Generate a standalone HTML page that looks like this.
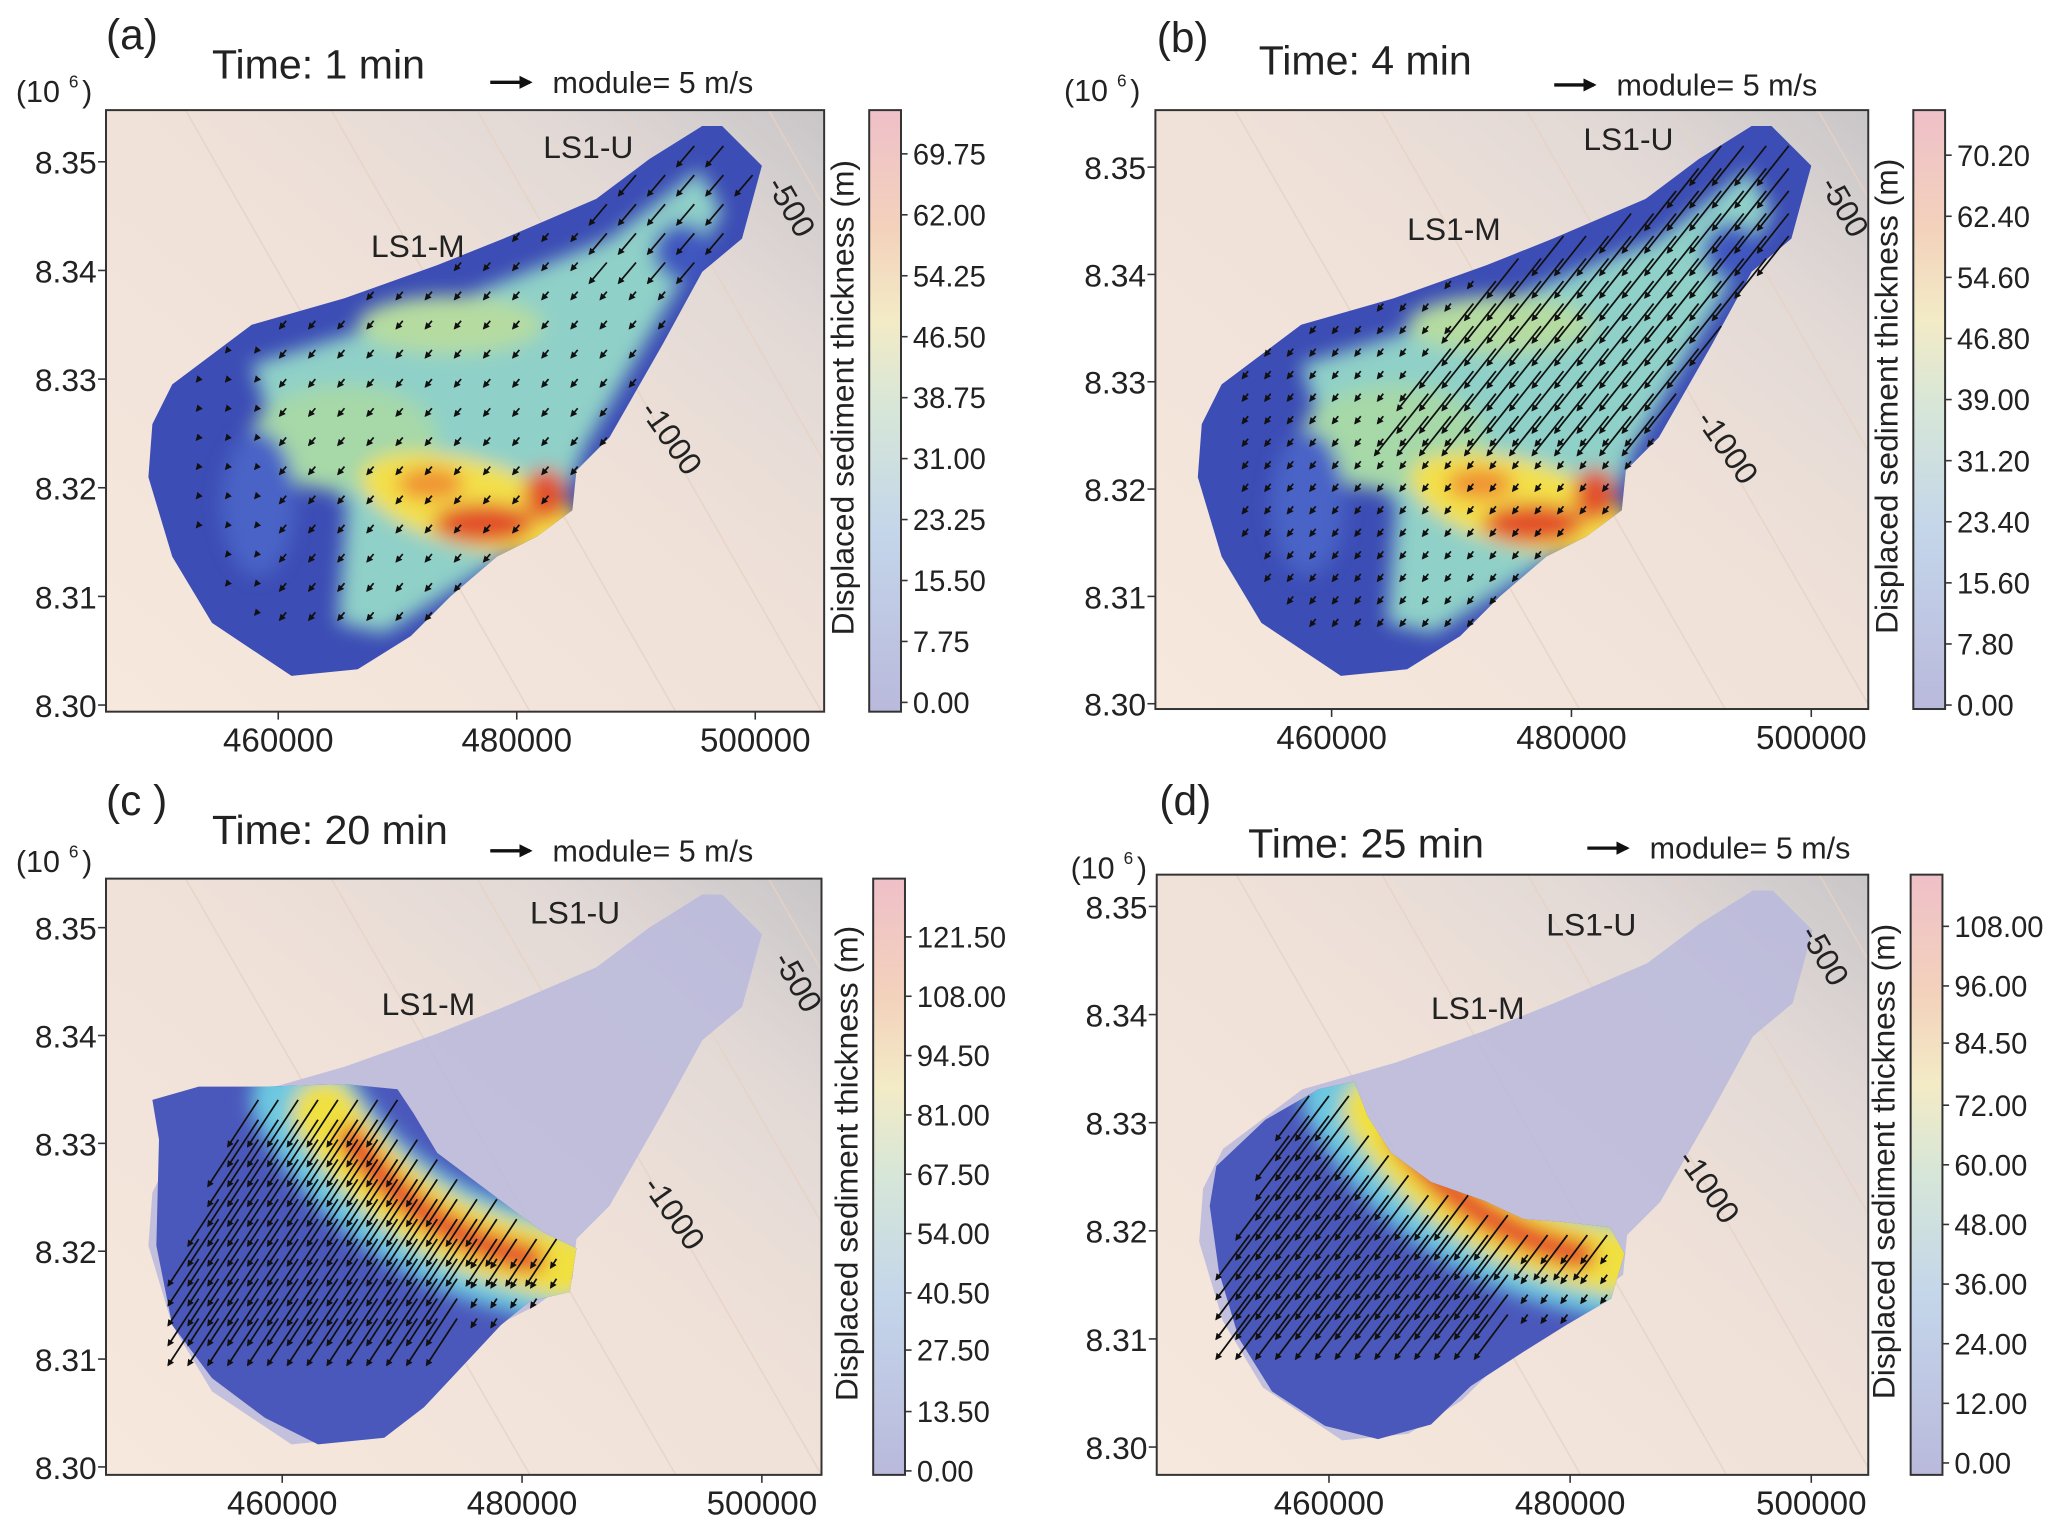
<!DOCTYPE html>
<html><head><meta charset="utf-8"><style>
html,body{margin:0;padding:0;background:#fff;}
svg{display:block;font-family:"Liberation Sans",Arial,sans-serif;}
</style></head><body>
<svg id="fig" width="2067" height="1532" viewBox="0 0 1560 1156" xmlns="http://www.w3.org/2000/svg">
<defs>
<linearGradient id="bg" x1="0" y1="1" x2="1" y2="0">
<stop offset="0" stop-color="#f6e8dc"/><stop offset="0.55" stop-color="#efe1d8"/><stop offset="0.8" stop-color="#e2d9d6"/><stop offset="1" stop-color="#c9c6c8"/>
</linearGradient>
<linearGradient id="cbar" x1="0" y1="1" x2="0" y2="0">
<stop offset="0" stop-color="#b9b9dc"/><stop offset="0.3" stop-color="#c4d6ea"/><stop offset="0.5" stop-color="#d6e6d8"/><stop offset="0.65" stop-color="#f3ebc6"/><stop offset="0.8" stop-color="#f3d2bc"/><stop offset="1" stop-color="#efc0c8"/>
</linearGradient>
<filter id="blur6" filterUnits="userSpaceOnUse" x="0" y="0" width="1560" height="1156"><feGaussianBlur stdDeviation="7"/></filter>
<marker id="ah" viewBox="0 0 10 10" refX="8" refY="5" markerWidth="4" markerHeight="4" orient="auto"><path d="M0,0L10,5L0,10z" fill="#111"/></marker>
</defs>
<g id="root"></g>
</svg>
<script>
const xTickValues=[460000,480000,500000];
const yTickValues=[8.30,8.31,8.32,8.33,8.34,8.35];
const cbarA=[0,7.75,15.50,23.25,31.00,38.75,46.50,54.25,62.00,69.75];
const cbarB=[0,7.80,15.60,23.40,31.20,39.00,46.80,54.60,62.40,70.20];
const cbarC=[0,13.50,27.50,40.50,54.00,67.50,81.00,94.50,108.00,121.50];
const cbarD=[0,12.00,24.00,36.00,48.00,60.00,72.00,84.50,96.00,108.00];
const panelLetters=["(a)","(b)","(c )","(d)"];
const panelTimes=["Time: 1 min","Time: 4 min","Time: 20 min","Time: 25 min"];

const NS="http://www.w3.org/2000/svg";
const root=document.getElementById('root');
function mk(tag,attrs,parent,text){const e=document.createElementNS(NS,tag);for(const k in attrs)e.setAttribute(k,attrs[k]);if(text!==undefined)e.textContent=text;(parent||root).appendChild(e);return e;}

const slide=[[115,320],[130,290],[190,245],[260,225],[330,200],[380,180],[450,150],[490,120],[530,95],[545,95],[575,125],[560,180],[530,205],[500,260],[460,330],[435,355],[432,385],[405,405],[375,420],[340,450],[310,480],[270,505],[220,510],[160,470],[130,420],[112,360]];
const depC=[[115,830],[150,820],[200,820],[260,818],[300,822],[312,840],[330,870],[370,900],[410,930],[435,942],[430,975],[400,982],[378,1000],[350,1030],[320,1062],[290,1085],[240,1090],[200,1070],[160,1040],[130,1000],[118,940],[120,860]];
const depD=[[918,880],[955,845],[995,822],[1022,816],[1032,842],[1050,870],[1080,892],[1120,906],[1150,920],[1178,922],[1215,926],[1226,946],[1216,980],[1182,1000],[1150,1020],[1110,1046],[1080,1075],[1040,1086],[1000,1076],[960,1050],[935,1010],[920,960],[913,910]];

function pts(p,dx,dy){return p.map(q=>(q[0]+dx)+','+(q[1]+dy)).join(' ');}
function inside(p,x,y){let c=false;for(let i=0,j=p.length-1;i<p.length;j=i++){const xi=p[i][0],yi=p[i][1],xj=p[j][0],yj=p[j][1];if(((yi>y)!=(yj>y))&&(x<(xj-xi)*(y-yi)/(yj-yi)+xi))c=!c;}return c;}

const panels=[
 {fx:80,fy:83,fw:542,fh:454,x0:210,x1:570,yb:532,yt:122,cb:656,cbt:83,cbb:537,lt:116,lb:530,cbv:cbarA,dx:0,dy:0,lx:80,ly:25,tx:160,ty:48,mx:370,my:62,ex:12,ey:69,u:[410,110],m:[280,185],c5:[590,160],c10:[500,335]},
 {fx:872,fy:83,fw:538,fh:452,x0:1005,x1:1367,yb:531,yt:126,cb:1444,cbt:83,cbb:535,lt:117,lb:532,cbv:cbarB,dx:792,dy:0,lx:873,ly:27,tx:950,ty:45,mx:1173,my:64,ex:803,ey:68,u:[1195,104],m:[1062,172],c5:[1385,160],c10:[1297,342]},
 {fx:80,fy:663,fw:540,fh:450,x0:213,x1:575,yb:1107,yt:700,cb:659,cbt:663,cbb:1113,lt:707,lb:1110,cbv:cbarC,dx:0,dy:580,lx:80,ly:603,tx:160,ty:626,mx:370,my:642,ex:12,ey:650,u:[400,688],m:[288,757],c5:[595,745],c10:[502,920]},
 {fx:873,fy:660,fw:537,fh:453,x0:1003,x1:1367,yb:1092,yt:684,cb:1442,cbt:660,cbb:1113,lt:699,lb:1104,cbv:cbarD,dx:793,dy:577,lx:875,ly:603,tx:942,ty:636,mx:1198,my:640,ex:808,ey:655,u:[1167,697],m:[1080,760],c5:[1370,725],c10:[1283,900]}
];

panels.forEach((P,i)=>{
 const g=mk('g',{});
 
 
 const xs=v=>P.x0+(v-460000)*(P.x1-P.x0)/40000;
 const ys=v=>P.yb+(v-8.30)*(P.yt-P.yb)/0.05;
 const cid='clip'+i;
 const cp=mk('clipPath',{id:cid},g);mk('rect',{x:P.fx,y:P.fy,width:P.fw,height:P.fh},cp);
 const map=mk('g',{'clip-path':'url(#'+cid+')'},g);
 
 
 mk('rect',{x:P.fx,y:P.fy,width:P.fw,height:P.fh,fill:'url(#bg)'},map);
 for(let k=0;k<5;k++){const ox=P.fx+60+k*110;mk('path',{d:`M${ox},${P.fy} L${ox+260},${P.fy+P.fh}`,stroke:'#e6d2c4',"stroke-width":1.2,fill:'none',opacity:0.8},map);}
 if(i<2){
  const sid='sclip'+i;
  const sc=mk('clipPath',{id:sid},g);mk('polygon',{points:pts(slide,P.dx,P.dy)},sc);
  mk('polygon',{points:pts(slide,P.dx,P.dy),fill:'#3c4db5'},map);
  const inner=mk('g',{filter:'url(#blur6)','clip-path':'url(#'+sid+')'},map);
  const D=P.dx;
  mk('path',{d:`M${190+D},${275} L${330+D},${232} L${460+D},${180} L${528+D},${128} L${545+D},${160} L${492+D},${250} L${440+D},${340} L${420+D},${395} L${350+D},${440} L${290+D},${478} L${255+D},${470} L${262+D},${380} L${205+D},${320}z`,fill:'#8fd0c8'},inner);
  mk('ellipse',{cx:260+D,cy:330,rx:70,ry:40,fill:'#a6d8a8'},inner);
  mk('ellipse',{cx:340+D,cy:245,rx:70,ry:22,fill:'#b5dba0'},inner);
  mk('ellipse',{cx:195+D,cy:380,rx:28,ry:55,fill:'#4a63c6'},inner);
  mk('ellipse',{cx:515+D,cy:190,rx:22,ry:22,fill:'#3f56bf'},inner);
  mk('ellipse',{cx:355+D,cy:380,rx:85,ry:33,fill:'#f3e048',transform:`rotate(15 ${355+D} 380)`},inner);
  mk('ellipse',{cx:365+D,cy:395,rx:38,ry:15,fill:'#e2502a'},inner);
  mk('ellipse',{cx:412+D,cy:373,rx:16,ry:20,fill:'#e2502a'},inner);
  mk('ellipse',{cx:325+D,cy:365,rx:25,ry:12,fill:'#f09030'},inner);
  const dir=i===0?[-0.55,0.65]:[-0.62,0.78];
  const sp=i===0?22:17;
  for(let x=150;x<570;x+=sp)for(let y=110;y<480;y+=sp){
   if(!inside(slide,x,y)||!inside(slide,x-15,y+15))continue;
   let L;
   if(i===0){L=y<200&&x>450?24:(x>200?9:3);}
   else{L=(y<330&&x>250&&x+y*0.7>480)?38:7;}
   const a=mk('line',{x1:x+D,y1:y,x2:x+D+dir[0]*L,y2:y+dir[1]*L,stroke:'#111','stroke-width':1.3,'marker-end':'url(#ah)'},map);
   
   
  }
 } else {
  const dep=i===2?depC:depD;
  const did='dclip'+i;
  const dc=mk('clipPath',{id:did},g);mk('polygon',{points:pts(dep,0,0)},dc);
  mk('polygon',{points:pts(slide,P.dx,P.dy),fill:'#b9b9dc',opacity:0.85},map);
  mk('polygon',{points:pts(dep,0,0),fill:'#4a58bb'},map);
  const inner=mk('g',{filter:'url(#blur6)','clip-path':'url(#'+did+')'},map);
  const cx=i===2?0:793, cy=i===2?0:-3;
  mk('path',{d:`M${230+cx},${830+cy} Q${290+cx},${940+cy} ${440+cx},${960+cy}`,stroke:'#6cc8e0','stroke-width':80,fill:'none','stroke-linecap':'round'},inner);
  mk('path',{d:`M${245+cx},${840+cy} Q${305+cx},${935+cy} ${425+cx},${955+cy}`,stroke:'#f0e040','stroke-width':50,fill:'none','stroke-linecap':'round'},inner);
  mk('path',{d:`M${265+cx},${860+cy} Q${315+cx},${930+cy} ${400+cx},${950+cy}`,stroke:'#e5502a','stroke-width':22,fill:'none','stroke-linecap':'round'},inner);
  const d2=i===2?[-0.55,0.84]:[-0.6,0.8];
  for(let x=150;x<430;x+=15)for(let y=830;y<1000;y+=15){
   const px=x+cx, py=y+cy;
   if(!inside(dep,px,py))continue;
   const r=x+ (y-830)*0.4;
   if(r<190)continue;
   const L=(y>940&&x>350)?8:42;
   const a=mk('line',{x1:px,y1:py,x2:px+d2[0]*L,y2:py+d2[1]*L,stroke:'#111','stroke-width':1.3,'marker-end':'url(#ah)'},map);
   
   
  }
 }
 const t1=mk('text',{x:P.u[0],y:P.u[1]+9,'font-size':24,fill:'#222'},g,'LS1-U');
 
 const t2=mk('text',{x:P.m[0],y:P.m[1]+9,'font-size':24,fill:'#222'},g,'LS1-M');
 
 const c5=mk('text',{x:P.c5[0],y:P.c5[1],'font-size':24,fill:'#222','text-anchor':'middle',transform:`rotate(60 ${P.c5[0]} ${P.c5[1]})`},g,'-500');
 
 const c10=mk('text',{x:P.c10[0],y:P.c10[1],'font-size':24,fill:'#222','text-anchor':'middle',transform:`rotate(55 ${P.c10[0]} ${P.c10[1]})`},g,'-1000');
 
 mk('rect',{x:P.fx,y:P.fy,width:P.fw,height:P.fh,fill:'none',stroke:'#333','stroke-width':1.5},g);
 xTickValues.forEach(v=>{const x=xs(v);mk('line',{x1:x,y1:P.fy+P.fh,x2:x,y2:P.fy+P.fh+6,stroke:'#333','stroke-width':1.2},g);
  const t=mk('text',{x:x,y:P.fy+P.fh+30,'font-size':25,'text-anchor':'middle',fill:'#222'},g,String(v));
  });
 yTickValues.forEach(v=>{const y=ys(v);mk('line',{x1:P.fx-6,y1:y,x2:P.fx,y2:y,stroke:'#333','stroke-width':1.2},g);
  const t=mk('text',{x:P.fx-7,y:y+9,'font-size':24,'text-anchor':'end',fill:'#222'},g,v.toFixed(2));
  });
 const e=mk('text',{x:P.ex,y:P.ey+8,'font-size':23,fill:'#222'},g,'(10');
 
 mk('text',{x:P.ex+40,y:P.ey-3,'font-size':13,fill:'#222'},g,'6');
 mk('text',{x:P.ex+50,y:P.ey+8,'font-size':23,fill:'#222'},g,')');
 const pl=mk('text',{x:P.lx,y:P.ly+12,'font-size':32,fill:'#222'},g,panelLetters[i]);
 
 const tt=mk('text',{x:P.tx,y:P.ty+11,'font-size':31,fill:'#222'},g,panelTimes[i]);
 
 mk('line',{x1:P.mx,y1:P.my,x2:P.mx+30,y2:P.my,stroke:'#111','stroke-width':2.5,'marker-end':'url(#ah)'},g);
 const mo=mk('text',{x:P.mx+47,y:P.my+8,'font-size':23,fill:'#222'},g,'module= 5 m/s');
 
 const cb=mk('rect',{x:P.cb,y:P.cbt,width:24,height:P.cbb-P.cbt,fill:'url(#cbar)',stroke:'#333','stroke-width':1.5},g);
 
 const vmax=P.cbv[P.cbv.length-1];
 const cs=v=>P.lb+(v/vmax)*(P.lt-P.lb);
 P.cbv.forEach(v=>{const y=cs(v);mk('line',{x1:P.cb+24,y1:y,x2:P.cb+29,y2:y,stroke:'#333','stroke-width':1.2},g);
  const t=mk('text',{x:P.cb+33,y:y+8,'font-size':22,fill:'#222'},g,v.toFixed(2));
  });
 const lx=P.cb-12, ly=(P.cbt+P.cbb)/2-10;
 const cl=mk('text',{x:lx,y:ly,'font-size':24,fill:'#222','text-anchor':'middle',transform:`rotate(-90 ${lx} ${ly})`},g,'Displaced sediment thickness  (m)');
 
});
</script>
</body></html>
